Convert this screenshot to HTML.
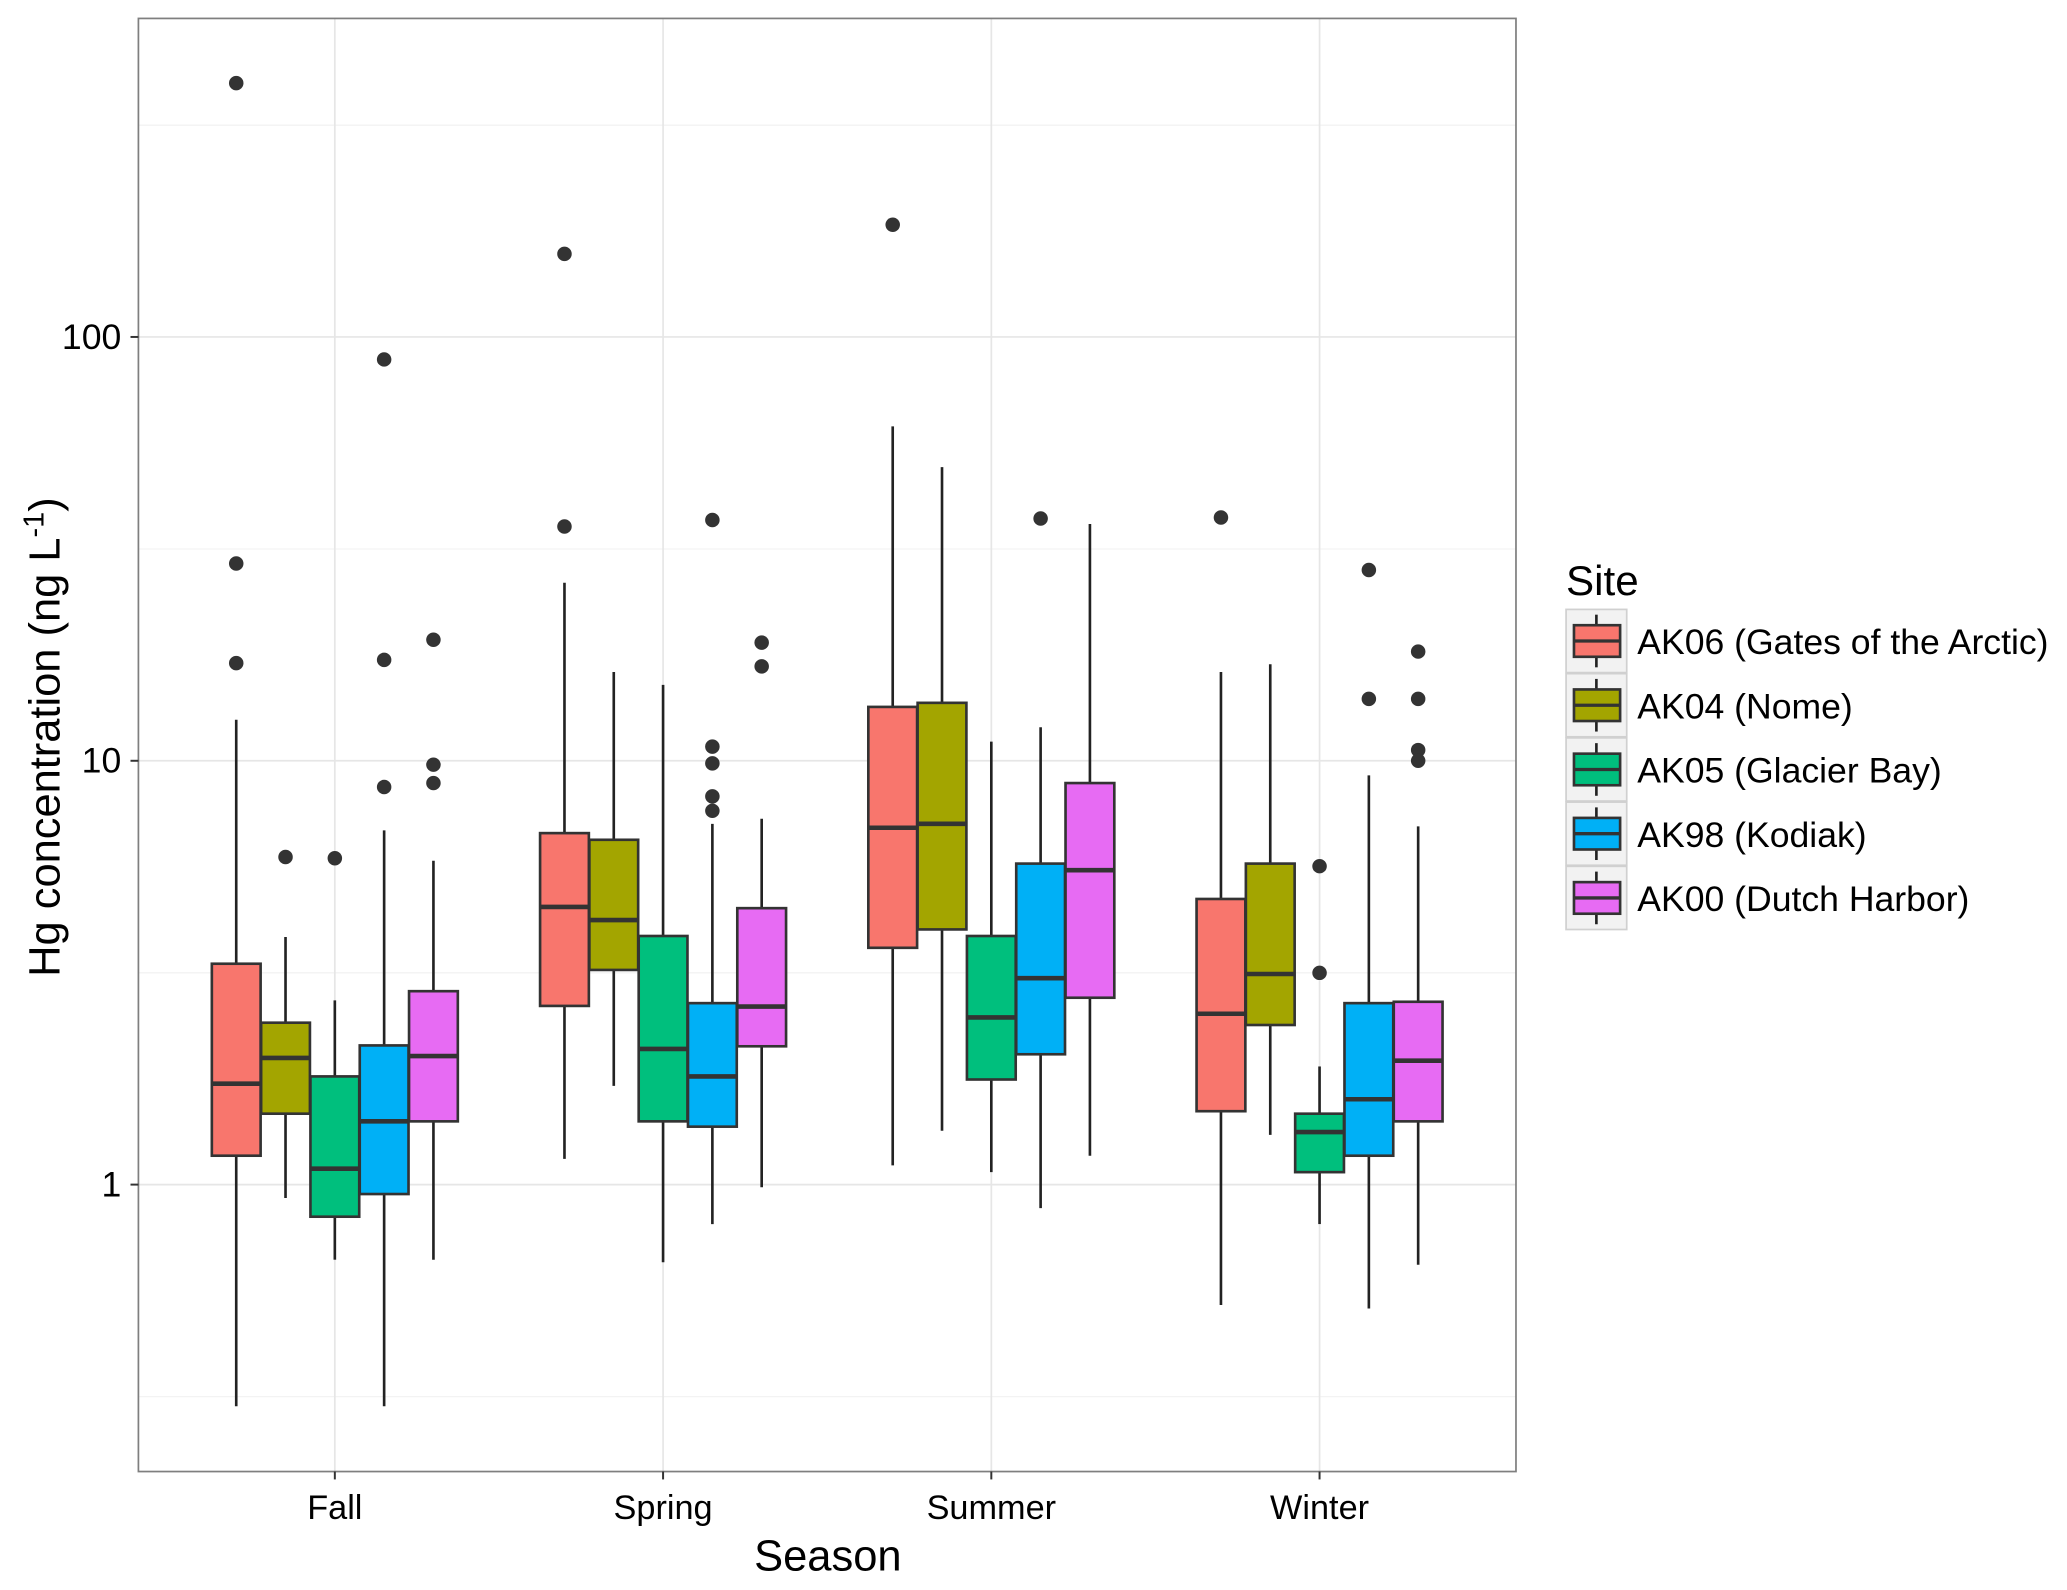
<!DOCTYPE html>
<html><head><meta charset="utf-8"><style>
html,body{margin:0;padding:0;background:#fff;}
svg{display:block;font-family:"Liberation Sans",Arial,sans-serif;}
</style></head><body>
<svg id="chart" width="2067" height="1590" viewBox="0 0 1568 1208" preserveAspectRatio="none" xmlns="http://www.w3.org/2000/svg">
<rect x="0" y="0" width="1568" height="1208" fill="#fff"/>
<g id="grid"></g>
<g id="boxes"></g>
<rect x="105" y="14" width="1045" height="1104" fill="none" stroke="#7f7f7f" stroke-width="1.3"/>
<g id="axes"></g>
<text x="628" y="1193" font-size="33" text-anchor="middle" fill="#000">Season</text>
<text transform="translate(45,560) rotate(-90)" font-size="33" text-anchor="middle" fill="#000">Hg concentration (ng L<tspan dy="-12" font-size="22">-1</tspan><tspan dy="12">)</tspan></text>
<g id="legend">
<text x="1188" y="452" font-size="32" fill="#000">Site</text>
</g>
</svg>
<script>
const seasons = ["Fall","Spring","Summer","Winter"];
const sites = ["AK06 (Gates of the Arctic)","AK04 (Nome)","AK05 (Glacier Bay)","AK98 (Kodiak)","AK00 (Dutch Harbor)"];
const colors = ["#f8766d","#a3a500","#00bf7d","#00b0f6","#e76bf3"];
const yTicks = [1,10,100];
const yTickLabels = ["1","10","100"];
// [whiskerLow, Q1, median, Q3, whiskerHigh] per season per site
const fallStats = [[0.30,1.17,1.73,3.32,12.5],[0.93,1.47,1.99,2.41,3.84],[0.665,0.84,1.09,1.80,2.72],[0.30,0.95,1.41,2.13,6.85],[0.665,1.41,2.01,2.86,5.81]];
const springStats = [[1.15,2.64,4.52,6.75,26.3],[1.71,3.21,4.21,6.51,16.2],[0.656,1.41,2.09,3.86,15.1],[0.807,1.37,1.80,2.68,7.10],[0.986,2.12,2.63,4.49,7.30]];
const summerStats = [[1.11,3.62,6.95,13.4,61.5],[1.34,4.00,7.10,13.7,49.3],[1.07,1.77,2.48,3.86,11.1],[0.88,2.03,3.07,5.72,12.0],[1.17,2.76,5.52,8.86,36.2]];
const winterStats = [[0.52,1.49,2.53,4.72,16.2],[1.31,2.38,3.14,5.72,16.9],[0.807,1.07,1.33,1.47,1.90],[0.51,1.17,1.59,2.68,9.24],[0.647,1.41,1.96,2.70,7.0]];
const fallOutliers = [[397,29.2,17.0],[5.93],[5.89],[88.5,17.3,8.67],[19.3,9.79,8.86]];
const springOutliers = [[157,35.7],[],[],[37.0,10.8,9.86,8.24,7.62],[19.0,16.7]];
const summerOutliers = [[184],[],[],[37.3],[]];
const winterOutliers = [[37.5],[],[5.64,3.16],[28.2,14.0],[18.1,14.0,10.6,10.0]];

const stats=[fallStats,springStats,summerStats,winterStats];
const outs=[fallOutliers,springOutliers,summerOutliers,winterOutliers];
const NS="http://www.w3.org/2000/svg";
const PL=105,PR=1150,PT=14,PB=1118;
function y(v){return 900-322*Math.log10(v);}
function xc(i){return 254+249*i;}
const dodge=37.4, bw=37;
function mk(tag,attrs,parent){const e=document.createElementNS(NS,tag);for(const k in attrs)e.setAttribute(k,attrs[k]);parent.appendChild(e);return e;}
const grid=document.getElementById('grid'),axes=document.getElementById('axes'),boxes=document.getElementById('boxes'),legend=document.getElementById('legend');
[0.316,3.16,31.6,316].forEach(v=>{const l=mk('line',{x1:PL,x2:PR,y1:y(v),y2:y(v),stroke:'#f3f3f3','stroke-width':1},grid);

});
yTicks.forEach((v,i)=>{const l=mk('line',{x1:PL,x2:PR,y1:y(v),y2:y(v),stroke:'#e6e6e6','stroke-width':1.3},grid);


const t=mk('line',{x1:PL-6,x2:PL,y1:y(v),y2:y(v),stroke:'#333','stroke-width':1.5},axes);


const tx=mk('text',{x:PL-13,y:y(v)+9,'font-size':27,'text-anchor':'end',fill:'#000'},axes);tx.textContent=yTickLabels[i];

});
seasons.forEach((s,i)=>{const l=mk('line',{x1:xc(i),x2:xc(i),y1:PT,y2:PB,stroke:'#e6e6e6','stroke-width':1.3},grid);


const t=mk('line',{x1:xc(i),x2:xc(i),y1:PB,y2:PB+6,stroke:'#333','stroke-width':1.5},axes);


const tx=mk('text',{x:xc(i),y:PB+36,'font-size':26,'text-anchor':'middle',fill:'#000'},axes);tx.textContent=s;


stats[i].forEach((st,j)=>{const cx=xc(i)+(j-2)*dodge;const g=mk('g',{},boxes);


mk('line',{x1:cx,x2:cx,y1:y(st[4]),y2:y(st[3]),stroke:'#222','stroke-width':2},g);
mk('line',{x1:cx,x2:cx,y1:y(st[1]),y2:y(st[0]),stroke:'#222','stroke-width':2},g);
mk('rect',{x:cx-bw/2,y:y(st[3]),width:bw,height:y(st[1])-y(st[3]),fill:colors[j],stroke:'#333','stroke-width':2},g);
mk('line',{x1:cx-bw/2,x2:cx+bw/2,y1:y(st[2]),y2:y(st[2]),stroke:'#333','stroke-width':3.5},g);
outs[i][j].forEach(v=>{const c=mk('circle',{cx:cx,cy:y(v),r:5.5,fill:'#333'},g);

});});});
sites.forEach((s,j)=>{const cy=487+48.8*j;const g=mk('g',{},legend);


mk('rect',{x:1188,y:cy-24,width:46,height:48,fill:'#f2f2f2',stroke:'#d0d0d0','stroke-width':1.3},g);
mk('line',{x1:1211,x2:1211,y1:cy-20,y2:cy+20,stroke:'#222','stroke-width':2},g);
mk('rect',{x:1194,y:cy-12,width:35,height:24,fill:colors[j],stroke:'#333','stroke-width':2},g);
mk('line',{x1:1194,x2:1229,y1:cy,y2:cy,stroke:'#333','stroke-width':2.5},g);
const t=mk('text',{x:1242,y:cy+10,'font-size':27,fill:'#000'},g);t.textContent=s;});
</script>
</body></html>
